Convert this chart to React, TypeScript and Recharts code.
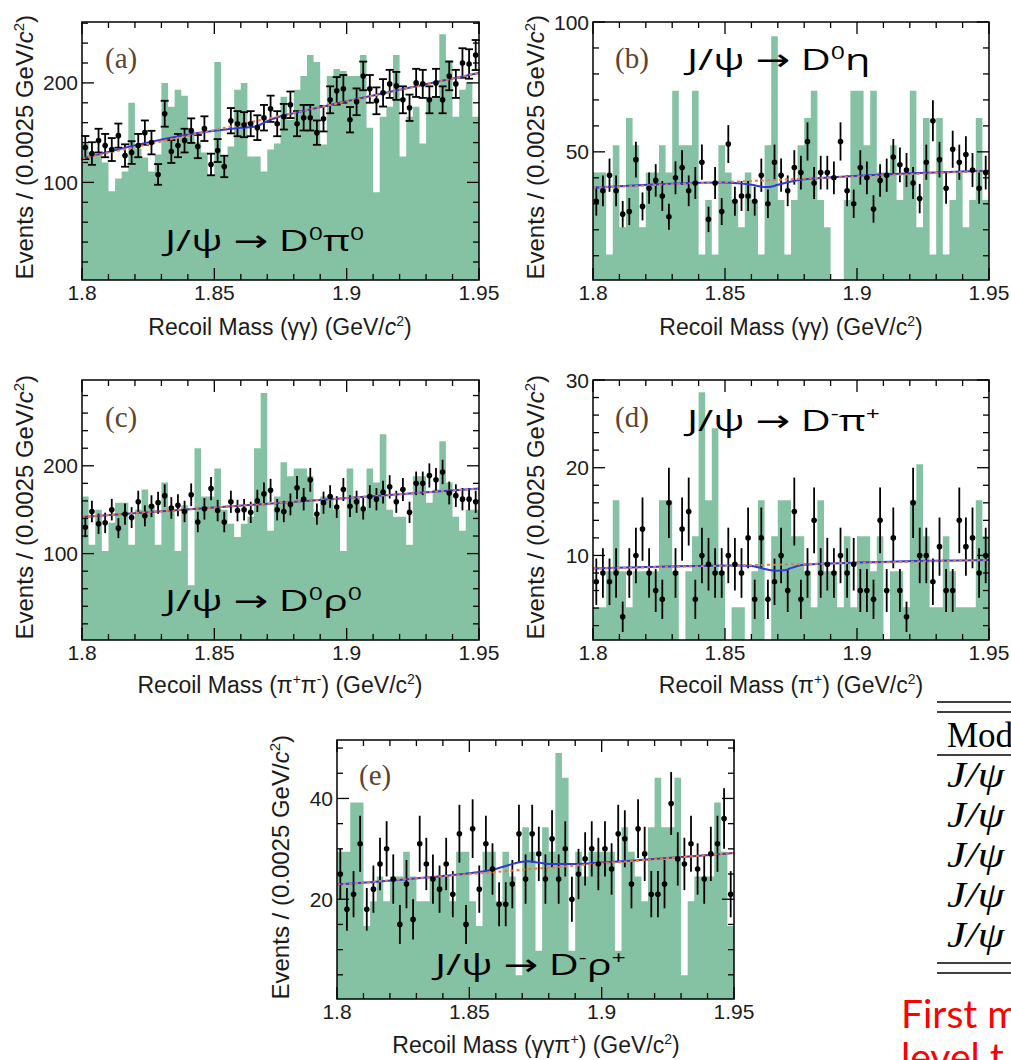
import React from "react";
import { ComposedChart, Area, Scatter, Line, XAxis, YAxis, ErrorBar } from "recharts";

// ---- binning of the recoil-mass spectra ----
const BIN_START = 1.8;
const BIN_WIDTH = 0.0025;
const MASS_DOMAIN: [number, number] = [1.8, 1.95];
const MASS_MAJOR = [1.8, 1.85, 1.9, 1.95];
const MASS_MINOR = [1.81, 1.82, 1.83, 1.84, 1.86, 1.87, 1.88, 1.89, 1.91, 1.92, 1.93, 1.94];

// ---- (a) J/psi -> D0 pi0 ----
const mcA = [139, 130, 128, 120, 91, 104, 111, 180, 134, 125, 111, 128, 200, 176, 193, 187, 152, 140, 130, 107,
  221, 126, 136, 193, 200, 126, 126, 111, 133, 139, 186, 163, 193, 207, 228, 221, 138, 207, 214, 212,
  207, 207, 228, 155, 90, 166, 176, 228, 126, 166, 176, 139, 186, 186, 249, 223, 166, 193, 201, 166];
const evA = [135, 129, 142, 137, 133, 147, 127, 130, 137, 150, 140, 108, 169, 131, 137, 142, 152, 136, 154, 118,
  132, 116, 162, 159, 158, 159, 155, 165, 174, 159, 166, 178, 159, 165, 165, 150, 164, 183, 192, 194,
  163, 181, 207, 194, 182, 190, 199, 197, 183, 175, 200, 199, 183, 200, 183, 207, 199, 220, 219, 228];
const fitMassA = [1.8, 1.85, 1.855, 1.86, 1.865, 1.8675, 1.87, 1.875, 1.88, 1.95];
const fitA = [124, 152, 153.5, 154.8, 156, 158.2, 161.5, 166.5, 169.6, 210];
const bkgMassA = [1.8, 1.95];
const bkgA = [124, 210];
const yMajorA = [100, 200];
const yMinorA = [20, 40, 60, 80, 120, 140, 160, 180, 220, 240, 260];

// ---- (b) J/psi -> D0 eta ----
const mcB = [42, 42, 10.5, 52.5, 21, 63, 52.5, 21, 42, 42, 52.5, 42, 73.5, 52.5, 52.5, 73.5, 10.5, 31.5, 10.5, 52.5,
  42, 31.5, 21, 42, 31.5, 10.5, 52.5, 94.5, 31.5, 10.5, 31.5, 52.5, 63, 73.5, 31.5, 21, 0, 0, 31.5, 73.5,
  73.5, 52.5, 73.5, 42, 42, 52.5, 31.5, 42, 73.5, 21, 63, 10.5, 63, 10.5, 31.5, 42, 21, 31.5, 63, 31.5];
const evB = [31, 35, 41, 35, 26, 27, 47, 29, 36, 39, 33, 25, 40, 44, 35, 38, 46, 24, 38, 27,
  53, 31, 33, 33, 31, 41, 30, 46, 41, 35, 44, 42, 54, 38, 42, 42, 40, 54, 35, 30,
  44, 40, 28, 39, 41, 48, 45, 43, 38, 32, 46, 62, 47, 36, 51, 46, 49, 43, 36, 42];
const fitMassB = [1.8, 1.85, 1.855, 1.86, 1.865, 1.8675, 1.87, 1.875, 1.88, 1.885, 1.95];
const fitB = [36.2, 38.2, 37.9, 37.3, 36.5, 36.6, 37.3, 38.6, 39.4, 39.8, 42.7];
const bkgMassB = [1.8, 1.95];
const bkgB = [36.2, 42.7];
const yMajorB = [50, 100];
const yMinorB = [10, 20, 30, 40, 60, 70, 80, 90];

// ---- (c) J/psi -> D0 rho0 ----
const mcC = [165, 110, 150, 103, 135, 158, 158, 110, 150, 173, 155, 110, 181, 150, 103, 155, 64, 220, 165, 165,
  197, 150, 134, 119, 134, 142, 220, 283, 126, 165, 204, 188, 197, 197, 188, 142, 165, 165, 150, 103,
  197, 165, 150, 197, 181, 236, 150, 142, 142, 110, 188, 188, 158, 173, 228, 181, 142, 126, 150, 150];
const evC = [130, 148, 134, 135, 150, 129, 145, 141, 159, 143, 154, 158, 166, 152, 155, 148, 167, 136, 151, 174,
  149, 136, 159, 149, 150, 147, 160, 168, 172, 150, 148, 156, 175, 162, 184, 145, 158, 165, 153, 173,
  154, 159, 151, 165, 162, 170, 176, 159, 173, 147, 180, 180, 189, 184, 193, 169, 166, 162, 162, 159];
const fitMassC = [1.8, 1.95];
const fitC = [141.8, 174];
const bkgMassC = [1.8, 1.95];
const bkgC = [141.8, 174];
const yMajorC = [100, 200];
const yMinorC = [20, 40, 60, 80, 120, 140, 160, 180, 220, 240, 260, 280];

// ---- (d) J/psi -> D- pi+ ----
const mcD = [4.1, 4.1, 8.2, 16.3, 8.2, 4.1, 8.2, 8.2, 8.2, 8.2, 16.3, 16.3, 8.2, 0, 8.2, 12.2, 28.6, 16.3, 24.5, 8.2,
  0, 4.1, 4.1, 0, 8.2, 16.3, 0, 12.2, 16.3, 16.3, 12.2, 12.2, 8.2, 4.1, 16.3, 8.2, 8.2, 4.1, 12.2, 4.1,
  12.2, 12.2, 8.2, 12.2, 0, 8.2, 8.2, 4.1, 16.3, 20.4, 12.2, 4.1, 4.1, 12.2, 8.2, 4.1, 4.1, 4.1, 16.3, 12.2];
const evD = [7, 8, 7, 8, 3, 8, 10, 13, 8, 6, 5, 16, 8, 13, 15, 5, 10, 9, 8, 8,
  10, 9, 8, 12, 5, 12, 5, 7, 10, 6, 15, 5, 8, 14, 8, 9, 8, 10, 8, 9,
  6, 6, 5, 14, 6, 12, 6, 3, 16, 10, 10, 7, 11, 6, 6, 14, 11, 12, 8, 10];
const fitMassD = [1.8, 1.855, 1.86, 1.8625, 1.865, 1.8675, 1.87, 1.8725, 1.875, 1.8775, 1.88, 1.95];
const fitD = [8.5, 8.85, 8.8, 8.65, 8.45, 8.3, 8.25, 8.3, 8.55, 8.8, 8.95, 9.47];
const bkgMassD = [1.8, 1.95];
const bkgD = [8.5, 9.47];
const yMajorD = [10, 20, 30];
const yMinorD = [2, 4, 6, 8, 12, 14, 16, 18, 22, 24, 26, 28];

// ---- (e) J/psi -> D- rho+ ----
const mcE = [29.4, 29.4, 39.2, 39.2, 14.7, 19.6, 24.5, 19.6, 24.5, 24.5, 29.4, 24.5, 19.6, 19.6, 24.5, 24.5, 24.5, 19.6, 29.4, 29.4,
  19.6, 14.7, 29.4, 29.4, 19.6, 29.4, 24.5, 4.9, 34.3, 29.4, 9.8, 34.3, 29.4, 49, 44.1, 9.8, 29.4, 24.5, 29.4, 29.4,
  29.4, 29.4, 9.8, 34.3, 29.4, 24.5, 19.6, 34.3, 44.1, 34.3, 34.3, 44.1, 4.9, 19.6, 24.5, 24.5, 24.5, 39.2, 29.4, 14.7];
const evE = [25, 18, 21, 31, 18, 22, 27, 30, 24, 15, 23, 16, 31, 27, 24, 22, 27, 21, 33, 15,
  34, 22, 31, 26, 19, 19, 23, 33, 24, 33, 29, 24, 32, 24, 30, 20, 25, 28, 30, 27,
  30, 26, 33, 32, 23, 34, 29, 21, 21, 23, 39, 28, 27, 31, 26, 24, 29, 31, 36, 21];
const fitMassE = [1.8, 1.84, 1.85, 1.855, 1.86, 1.865, 1.87, 1.8725, 1.875, 1.88, 1.89, 1.9, 1.95];
const fitE = [22.9, 24.6, 25.15, 25.5, 26.0, 26.8, 27.45, 27.55, 27.35, 27.0, 27.0, 27.3, 29.2];
const bkgMassE = [1.8, 1.95];
const bkgE = [22.9, 29.2];
const yMajorE = [20, 40];
const yMinorE = [5, 10, 15, 25, 30, 35, 45, 50];

// ---- styling ----
const GREEN = "#85c2a4";
const BLUE = "#3535d8";
const ORANGE = "#ef7a35";
const INK = "#1b1b1b";
const SANS = "'Liberation Sans', Arial, Helvetica, sans-serif";
const SERIF = "'Liberation Serif', 'Times New Roman', serif";
const LABEL_FONT = "'Open Sans', 'Noto Sans', 'DejaVu Sans', sans-serif";

type Row = { m: number; n: number; e?: number };

function stepRows(counts: number[]): Row[] {
  const rows = counts.map((n, i) => ({ m: BIN_START + i * BIN_WIDTH, n }));
  rows.push({ m: BIN_START + counts.length * BIN_WIDTH, n: counts[counts.length - 1] });
  return rows;
}
function pointRows(counts: number[]): Row[] {
  return counts.map((n, i) => ({ m: BIN_START + (i + 0.5) * BIN_WIDTH, n, e: Math.sqrt(n) }));
}
function curveRows(mass: number[], vals: number[]): Row[] {
  return mass.map((m, i) => ({ m, n: vals[i] }));
}

type PanelSpec = {
  id: string;
  plot: { x: number; y: number; w: number; h: number };
  yDomain: [number, number];
  yMajor: number[];
  yMinor: number[];
  mc: number[];
  ev: number[];
  fitMass: number[];
  fit: number[];
  bkgMass: number[];
  bkg: number[];
  cap: number;
};

const PANELS: PanelSpec[] = [
  { id: "a", plot: { x: 82, y: 22, w: 397, h: 258 }, yDomain: [1.9, 261.2], yMajor: yMajorA, yMinor: yMinorA,
    mc: mcA, ev: evA, fitMass: fitMassA, fit: fitA, bkgMass: bkgMassA, bkg: bkgA, cap: 4 },
  { id: "b", plot: { x: 593, y: 22, w: 396, h: 258 }, yDomain: [0.65, 100], yMajor: yMajorB, yMinor: yMinorB,
    mc: mcB, ev: evB, fitMass: fitMassB, fit: fitB, bkgMass: bkgMassB, bkg: bkgB, cap: 0 },
  { id: "c", plot: { x: 82, y: 380, w: 397, h: 260 }, yDomain: [1.6, 297.7], yMajor: yMajorC, yMinor: yMinorC,
    mc: mcC, ev: evC, fitMass: fitMassC, fit: fitC, bkgMass: bkgMassC, bkg: bkgC, cap: 0 },
  { id: "d", plot: { x: 593, y: 380, w: 396, h: 260 }, yDomain: [0.36, 30], yMajor: yMajorD, yMinor: yMinorD,
    mc: mcD, ev: evD, fitMass: fitMassD, fit: fitD, bkgMass: bkgMassD, bkg: bkgD, cap: 0 },
  { id: "e", plot: { x: 337, y: 740, w: 397, h: 259 }, yDomain: [0.2, 51.6], yMajor: yMajorE, yMinor: yMinorE,
    mc: mcE, ev: evE, fitMass: fitMassE, fit: fitE, bkgMass: bkgMassE, bkg: bkgE, cap: 0 },
];

// the axes themselves take 1px each; margins are set so the plot area lands on p.plot
const AXIS_PX = 1;
const MARGIN = { top: 12, right: 30, bottom: 32 - AXIS_PX, left: 82 - AXIS_PX };
const MAJOR_LEN = 12;
const MINOR_LEN = 6;

const isIn = (list: number[], v: number) => list.some((t) => Math.abs(t - v) < 1e-9);

// ticks point into the frame on all four sides
function massTick(plotH: number) {
  return (props: any) => {
    const { x, y, payload } = props;
    const v = payload.value as number;
    const major = isIn(MASS_MAJOR, v);
    const len = major ? MAJOR_LEN : MINOR_LEN;
    return (
      <g>
        <line x1={x} x2={x} y1={y} y2={y - len} stroke="#000" strokeWidth={1.3} />
        <line x1={x} x2={x} y1={y - plotH} y2={y - plotH + len} stroke="#000" strokeWidth={1.3} />
        {major && (
          <text x={x} y={y + 20} textAnchor="middle" fontFamily={SANS} fontSize={21} fill={INK}>
            {String(v)}
          </text>
        )}
      </g>
    );
  };
}

function countTick(plotW: number, majors: number[]) {
  return (props: any) => {
    const { x, y, payload } = props;
    const v = payload.value as number;
    const major = isIn(majors, v);
    const len = major ? MAJOR_LEN : MINOR_LEN;
    return (
      <g>
        <line x1={x} x2={x + len} y1={y} y2={y} stroke="#000" strokeWidth={1.3} />
        <line x1={x + plotW} x2={x + plotW - len} y1={y} y2={y} stroke="#000" strokeWidth={1.3} />
        {major && (
          <text x={x - 4} y={y + 7.5} textAnchor="end" fontFamily={SANS} fontSize={21} fill={INK}>
            {String(v)}
          </text>
        )}
      </g>
    );
  };
}

const Dot = (props: any) => <circle cx={props.cx} cy={props.cy} r={2.8} fill="#000" />;

function SpectrumPanel({ p }: { p: PanelSpec }) {
  const w = p.plot.w + MARGIN.left + MARGIN.right + AXIS_PX;
  const h = p.plot.h + MARGIN.top + MARGIN.bottom + AXIS_PX;
  const massTicks = [...MASS_MAJOR, ...MASS_MINOR].sort((a, b) => a - b);
  const countTicks = [...p.yMajor, ...p.yMinor].sort((a, b) => a - b);
  return (
    <div style={{ position: "absolute", left: p.plot.x - MARGIN.left - AXIS_PX, top: p.plot.y - MARGIN.top, width: w, height: h }}>
      <ComposedChart width={w} height={h} margin={MARGIN}>
        <Area
          data={stepRows(p.mc)}
          dataKey="n"
          type="stepAfter"
          fill={GREEN}
          fillOpacity={1}
          stroke="none"
          isAnimationActive={false}
        />
        <Scatter data={pointRows(p.ev)} fill="#000" shape={Dot} isAnimationActive={false}>
          <ErrorBar dataKey="e" direction="y" width={p.cap} stroke="#000" strokeWidth={1.8} />
        </Scatter>
        <Line
          data={curveRows(p.fitMass, p.fit)}
          dataKey="n"
          type="monotone"
          stroke={BLUE}
          strokeWidth={2}
          dot={false}
          isAnimationActive={false}
        />
        <Line
          data={curveRows(p.bkgMass, p.bkg)}
          dataKey="n"
          type="linear"
          stroke={ORANGE}
          strokeWidth={2}
          strokeDasharray="3 3"
          dot={false}
          isAnimationActive={false}
        />
        <XAxis
          dataKey="m"
          type="number"
          domain={MASS_DOMAIN}
          allowDataOverflow
          ticks={massTicks}
          interval={0}
          height={AXIS_PX}
          tickSize={0}
          tickMargin={0}
          axisLine={false}
          tickLine={false}
          tick={massTick(p.plot.h)}
        />
        <YAxis
          dataKey="n"
          type="number"
          domain={p.yDomain}
          allowDataOverflow
          ticks={countTicks}
          interval={0}
          width={AXIS_PX}
          tickSize={0}
          tickMargin={0}
          axisLine={false}
          tickLine={false}
          tick={countTick(p.plot.w, p.yMajor)}
        />
      </ComposedChart>
    </div>
  );
}

// ---- annotations ----
type Seg = { t: string; sup?: boolean; it?: boolean };

function segs(parts: Seg[], supSize: number, rise: number) {
  let raised = false;
  return parts.map((s, i) => {
    let dy: number | undefined;
    if (s.sup && !raised) {
      dy = -rise;
      raised = true;
    } else if (!s.sup && raised) {
      dy = rise;
      raised = false;
    }
    return (
      <tspan key={i} dy={dy} fontSize={s.sup ? supSize : undefined} fontStyle={s.it ? "italic" : undefined}>
        {s.t}
      </tspan>
    );
  });
}

const yTitle: Seg[] = [{ t: "Events / (0.0025 GeV/" }, { t: "c", it: true }, { t: "2", sup: true }, { t: ")" }];

const X_TITLES: { cx: number; y: number; parts: Seg[] }[] = [
  { cx: 280, y: 335, parts: [{ t: "Recoil Mass (γγ) (GeV/" }, { t: "c", it: true }, { t: "2", sup: true }, { t: ")" }] },
  { cx: 791, y: 335, parts: [{ t: "Recoil Mass (γγ) (GeV/c" }, { t: "2", sup: true }, { t: ")" }] },
  { cx: 280, y: 693, parts: [{ t: "Recoil Mass (π" }, { t: "+", sup: true }, { t: "π" }, { t: "-", sup: true }, { t: ") (GeV/c" }, { t: "2", sup: true }, { t: ")" }] },
  { cx: 791, y: 693, parts: [{ t: "Recoil Mass (π" }, { t: "+", sup: true }, { t: ") (GeV/c" }, { t: "2", sup: true }, { t: ")" }] },
  { cx: 536, y: 1053, parts: [{ t: "Recoil Mass (γγπ" }, { t: "+", sup: true }, { t: ") (GeV/c" }, { t: "2", sup: true }, { t: ")" }] },
];

const Y_TITLES = [
  { x: 33, yEnd: 15 },
  { x: 544, yEnd: 15 },
  { x: 33, yEnd: 375 },
  { x: 544, yEnd: 375 },
  { x: 289, yEnd: 735 },
];

const TAGS = [
  { t: "(a)", x: 105, y: 68 },
  { t: "(b)", x: 615, y: 68 },
  { t: "(c)", x: 105, y: 427 },
  { t: "(d)", x: 615, y: 427 },
  { t: "(e)", x: 359, y: 785 },
];

// decay-channel captions are set in a horizontally widened sans face
const DECAY_STRETCH = 1.38;
const DECAYS: { x: number; y: number; parts: Seg[] }[] = [
  { x: 165, y: 251, parts: [{ t: "J/ψ → D" }, { t: "0", sup: true }, { t: "π" }, { t: "0", sup: true }] },
  { x: 687, y: 70, parts: [{ t: "J/ψ → D" }, { t: "0", sup: true }, { t: "η" }] },
  { x: 165, y: 611, parts: [{ t: "J/ψ → D" }, { t: "0", sup: true }, { t: "ρ" }, { t: "0", sup: true }] },
  { x: 687, y: 431, parts: [{ t: "J/ψ → D" }, { t: "-", sup: true }, { t: "π" }, { t: "+", sup: true }] },
  { x: 435, y: 975, parts: [{ t: "J/ψ → D" }, { t: "-", sup: true }, { t: "ρ" }, { t: "+", sup: true }] },
];

const TABLE_ROWS = [787, 827, 867, 907, 947];

function Annotations() {
  return (
    <svg width={1011} height={1060} style={{ position: "absolute", left: 0, top: 0, pointerEvents: "none", whiteSpace: "pre" }}>
      {PANELS.map((p) => (
        <rect key={p.id} x={p.plot.x} y={p.plot.y} width={p.plot.w} height={p.plot.h} fill="none" stroke="#000" strokeWidth={1.5} />
      ))}
      {Y_TITLES.map((t, i) => (
        <text key={i} transform={`translate(${t.x},${t.yEnd}) rotate(-90)`} textAnchor="end" fontFamily={SANS} fontSize={24} fill={INK}>
          {segs(yTitle, 15, 9)}
        </text>
      ))}
      {X_TITLES.map((t, i) => (
        <text key={i} x={t.cx} y={t.y} textAnchor="middle" fontFamily={SANS} fontSize={23} fill={INK}>
          {segs(t.parts, 14, 9)}
        </text>
      ))}
      {TAGS.map((t) => (
        <text key={t.t} x={t.x} y={t.y} fontFamily={SERIF} fontSize={29} fill="#5b4430">
          {t.t}
        </text>
      ))}
      {DECAYS.map((d, i) => (
        <text key={i} transform={`translate(${d.x},${d.y}) scale(${DECAY_STRETCH},1)`} fontFamily={LABEL_FONT} fontSize={30} fill="#000">
          {segs(d.parts, 18, 11)}
        </text>
      ))}
      {/* table edge at the right */}
      <g stroke="#000" strokeWidth={1.5}>
        <line x1={937} x2={1011} y1={702} y2={702} />
        <line x1={937} x2={1011} y1={712} y2={712} />
        <line x1={937} x2={1011} y1={755} y2={755} />
        <line x1={937} x2={1011} y1={963} y2={963} />
        <line x1={937} x2={1011} y1={973} y2={973} />
      </g>
      <text x={947} y={747} fontFamily={SERIF} fontSize={35} fill="#000">Mod</text>
      {TABLE_ROWS.map((y) => (
        <text key={y} transform={`translate(947,${y}) scale(1.22,1)`} fontFamily={SERIF} fontSize={35} fontStyle="italic" fill="#000">J/ψ</text>
      ))}
      <text x={901} y={1028} fontFamily="Lato, 'Open Sans', sans-serif" fontSize={39} fill="#ff0000">First m</text>
      <text x={901} y={1071} fontFamily="Lato, 'Open Sans', sans-serif" fontSize={39} fill="#ff0000">level t</text>
    </svg>
  );
}

export default function App() {
  return (
    <div style={{ position: "absolute", left: 0, top: 0, width: 1011, height: 1060, overflow: "hidden", background: "#fff" }}>
      {PANELS.map((p) => (
        <SpectrumPanel key={p.id} p={p} />
      ))}
      <Annotations />
    </div>
  );
}
